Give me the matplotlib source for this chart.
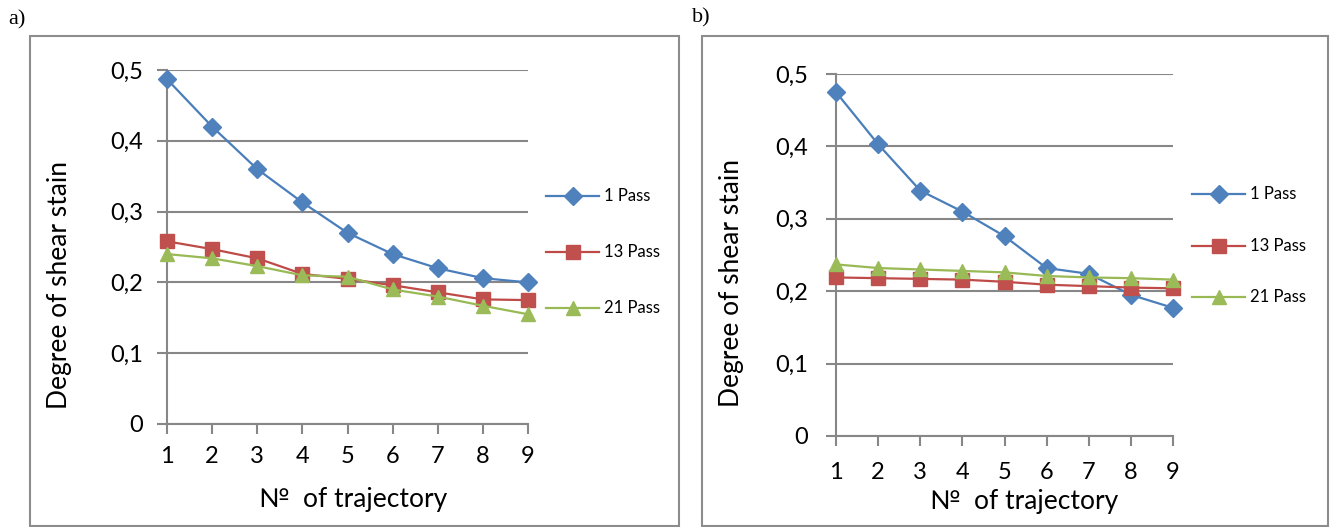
import matplotlib
matplotlib.use("Agg")
import matplotlib.pyplot as plt
from matplotlib.patches import Rectangle

trajectory = [1, 2, 3, 4, 5, 6, 7, 8, 9]
series_names = ["1 Pass", "13 Pass", "21 Pass"]

a_pass1 = [0.487, 0.420, 0.360, 0.313, 0.270, 0.240, 0.220, 0.206, 0.200]
a_pass13 = [0.258, 0.247, 0.234, 0.212, 0.205, 0.196, 0.186, 0.176, 0.175]
a_pass21 = [0.240, 0.234, 0.223, 0.210, 0.208, 0.190, 0.180, 0.167, 0.155]

b_pass1 = [0.475, 0.403, 0.339, 0.310, 0.276, 0.232, 0.224, 0.195, 0.177]
b_pass13 = [0.219, 0.218, 0.217, 0.216, 0.213, 0.209, 0.207, 0.205, 0.204]
b_pass21 = [0.237, 0.232, 0.230, 0.228, 0.226, 0.221, 0.219, 0.218, 0.216]

y_ticks = [0, 0.1, 0.2, 0.3, 0.4, 0.5]
y_ticklabels = ["0", "0,1", "0,2", "0,3", "0,4", "0,5"]
panel_labels = ["a)", "b)"]

W, H = 1331, 527
fig = plt.figure(figsize=(W / 100, H / 100), dpi=100)
plt.rcParams['font.family'] = ['Lato', 'DejaVu Sans']

colors = ["#4A7EBB", "#BE4B48", "#98B954"]
mcolors = ["#4F81BD", "#C0504D", "#9BBB59"]
markers = ["D", "s", "^"]
msizes = [9, 9.5, 10]
grid_c = "#878787"


def px_rect(x0, y0, x1, y1):
    return [x0 / W, 1 - y1 / H, (x1 - x0) / W, (y1 - y0) / H]


def panel(ax_box, frame, label_pos, label, data, leg_y, leg_x,
          xpad, ypad, xlab_xy, ylab_xy):
    fr = Rectangle((frame[0] / W, 1 - frame[3] / H), (frame[2] - frame[0]) / W,
                   (frame[3] - frame[1]) / H, transform=fig.transFigure,
                   fill=False, edgecolor="#8C8C8C", linewidth=1.5)
    fig.patches.append(fr)
    fig.text(label_pos[0] / W, 1 - label_pos[1] / H, label, family="Liberation Serif",
             fontsize=16, ha="left", va="center")
    ax = fig.add_axes(px_rect(*ax_box))
    lines = []
    for vals, c, mc, m, ms, name in zip(data, colors, mcolors, markers, msizes, series_names):
        ln, = ax.plot(trajectory, vals, color=c, marker=m, markersize=ms,
                      markerfacecolor=mc, markeredgecolor=mc, linewidth=1.6,
                      label=name, clip_on=False, zorder=3)
        lines.append(ln)
    ax.set_xlim(1, 9)
    ax.set_ylim(0, 0.5)
    ax.set_yticks(y_ticks)
    ax.set_yticklabels(y_ticklabels)
    ax.set_xticks(trajectory)
    ax.set_xticklabels([str(t) for t in trajectory])
    ax.grid(axis="y", color=grid_c, linewidth=1.5, zorder=0)
    ax.set_axisbelow(True)
    for s in ["top", "right"]:
        ax.spines[s].set_visible(False)
    for s in ["left", "bottom"]:
        ax.spines[s].set_color(grid_c)
        ax.spines[s].set_linewidth(1.5)
    ax.tick_params(axis="both", color=grid_c, width=1.5, length=7, labelsize=17)
    ax.tick_params(axis="x", pad=xpad)
    ax.tick_params(axis="y", pad=ypad)
    ax.set_xlabel("№  of trajectory", fontsize=19, va="center")
    ax.set_ylabel("Degree of shear stain", fontsize=19, va="center")
    x0, x1 = ax_box[0], ax_box[2]
    y0, y1 = ax_box[1], ax_box[3]
    ax.xaxis.set_label_coords((xlab_xy[0] - x0) / (x1 - x0), (y1 - xlab_xy[1]) / (y1 - y0))
    ax.yaxis.set_label_coords((ylab_xy[0] - x0) / (x1 - x0), (y1 - ylab_xy[1]) / (y1 - y0))
    for ln, yy in zip(lines, leg_y):
        yf = 1 - yy / H
        fig.lines.append(plt.Line2D([leg_x[0] / W, leg_x[1] / W], [yf, yf],
                                    transform=fig.transFigure, color=ln.get_color(),
                                    linewidth=1.6))
        fig.lines.append(plt.Line2D([(leg_x[0] + leg_x[1]) / 2 / W], [yf],
                                    transform=fig.transFigure, marker=ln.get_marker(),
                                    markersize=ln.get_markersize(),
                                    markerfacecolor=ln.get_markerfacecolor(),
                                    markeredgecolor=ln.get_markeredgecolor(),
                                    linestyle="none"))
        fig.text((leg_x[1] + 5) / W, yf, ln.get_label(), fontsize=12, ha="left", va="center")
    return ax


panel((167, 70, 528, 424), (30, 36, 679, 526), (8, 20), panel_labels[0],
      [a_pass1, a_pass13, a_pass21], [196, 252, 308], [546, 599],
      8.5, 10, (353, 500), (60, 285))
panel((836, 74, 1173, 436), (702, 36, 1328, 526), (692, 18), panel_labels[1],
      [b_pass1, b_pass13, b_pass21], [194, 246, 297], [1192, 1245],
      12, 13, (1024, 502), (732, 283))

fig.savefig("out.png", dpi=100)
